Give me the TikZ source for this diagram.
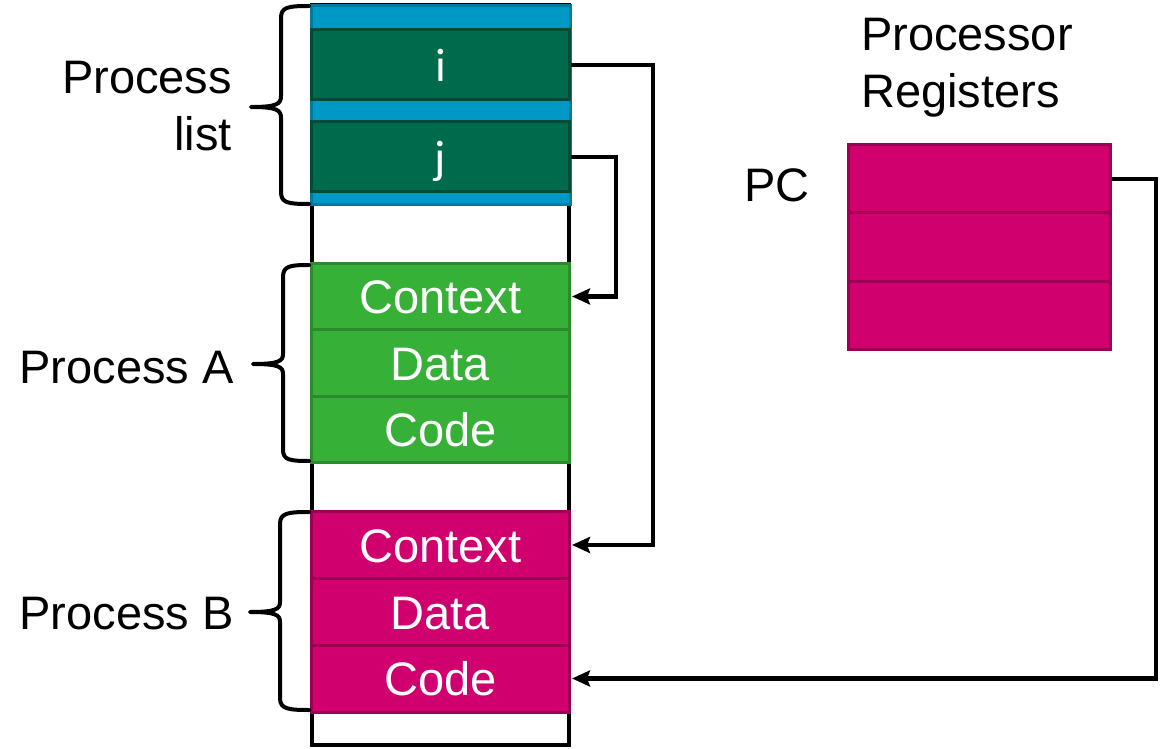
\documentclass[tikz,border=0pt]{standalone}
\usepackage{fontspec}
\setmainfont{Liberation Sans}
\newfontfamily\calfont{Carlito}
\usetikzlibrary{arrows.meta,calc}
\definecolor{blueF}{HTML}{0099C6}
\definecolor{blueE}{HTML}{007BA0}
\definecolor{dgF}{HTML}{006A4C}
\definecolor{dgE}{HTML}{004B36}
\definecolor{gF}{HTML}{36B037}
\definecolor{gE}{HTML}{2B8A2B}
\definecolor{mF}{HTML}{D0006F}
\definecolor{mE}{HTML}{9C0052}
\tikzset{
  big/.style={font=\fontsize{47}{57}\selectfont},
  cell/.style={big, draw, line width=3pt, inner sep=0pt, text=white,
    text height=34pt, text depth=0pt, minimum width=258pt},
  ptr/.style={cell, fill=dgF, draw=dgE, minimum height=70pt, font=\calfont\fontsize{47}{57}\selectfont},
  procA/.style={cell, fill=gF, draw=gE, minimum height=66.5pt},
  procB/.style={cell, fill=mF, draw=mE, minimum height=67pt},
  reg/.style={cell, fill=mF, draw=mE, minimum width=262pt, minimum height=68pt},
  lbl/.style={big, inner sep=0pt, text height=34pt, text depth=0pt},
  mlbl/.style={big, inner sep=0pt},
  link/.style={line width=4.5pt, -{Stealth[length=18pt,width=16pt,inset=3pt]}},
  brc/.style={line width=4pt, line cap=round, line join=round}
}
\begin{document}
\begin{tikzpicture}[x=1pt,y=-1pt]
\useasboundingbox (0,0) rectangle (1163,749);

% memory column
\draw[line width=4pt] (312,5) rectangle (569,745);

% process list area
\draw[fill=blueF, draw=blueE, line width=3pt] (311,6) rectangle (570,205);
\node[ptr] (pi) at (440.5,65) {i};
\node[ptr] (pj) at (440.5,157) {j};

% process A
\node[procA] (ctxA)  at (440.5,296.5) {Context};
\node[procA] (dataA) at (440.5,363)   {Data};
\node[procA] (codeA) at (440.5,429.5) {Code};

% process B
\node[procB] (ctxB)  at (440.5,545)   {Context};
\node[procB] (dataB) at (440.5,612)   {Data};
\node[procB] (codeB) at (440.5,678.5) {Code};

% processor registers
\node[reg] (pc)   at (979,179) {};
\node[reg] (reg2) at (979,247) {};
\node[reg] (reg3) at (979,315) {};

% labels
\node[mlbl, anchor=north east, align=right] (lpl) at (232,61) {Process\\list};
\node[lbl, anchor=east] (lpa) at (234,366) {Process A};
\node[lbl, anchor=east] (lpb) at (234,612) {Process B};
\node[lbl] (lpc) at (777,185) {PC};
\node[mlbl, anchor=north west, align=left] (lreg) at (861,18) {Processor\\Registers};

% braces
\draw[brc] (309,6) .. controls (288,6) and (281,7) .. (281,18) -- (281,96)
  .. controls (281,104) and (277,107) .. (251,107)
  .. controls (277,107) and (281,110) .. (281,118) -- (281,192)
  .. controls (281,203) and (288,204) .. (309,204);
\draw[brc] (309,265) .. controls (290,265) and (283,266) .. (283,277) -- (283,354)
  .. controls (283,361) and (279,364) .. (253,364)
  .. controls (279,364) and (283,367) .. (283,374) -- (283,450)
  .. controls (283,460) and (290,461) .. (309,461);
\draw[brc] (309,512) .. controls (288,512) and (280,513) .. (280,524) -- (280,602)
  .. controls (280,609) and (276,612) .. (250,612)
  .. controls (276,612) and (280,615) .. (280,622) -- (280,698)
  .. controls (280,709) and (288,710) .. (309,710);

% pointers
\coordinate (ci) at (653,0);
\coordinate (cj) at (616,0);
\coordinate (cpc) at (1156,0);
\draw[link] (pi.east) -- (pi.east -| ci) -- (ctxB.east -| ci) -- ([xshift=1pt]ctxB.east);
\draw[link] (pj.east) -- (pj.east -| cj) -- (ctxA.east -| cj) -- ([xshift=1pt]ctxA.east);
\draw[link] (pc.east) -- (pc.east -| cpc) -- (codeB.east -| cpc) -- ([xshift=1pt]codeB.east);
\end{tikzpicture}
\end{document}
